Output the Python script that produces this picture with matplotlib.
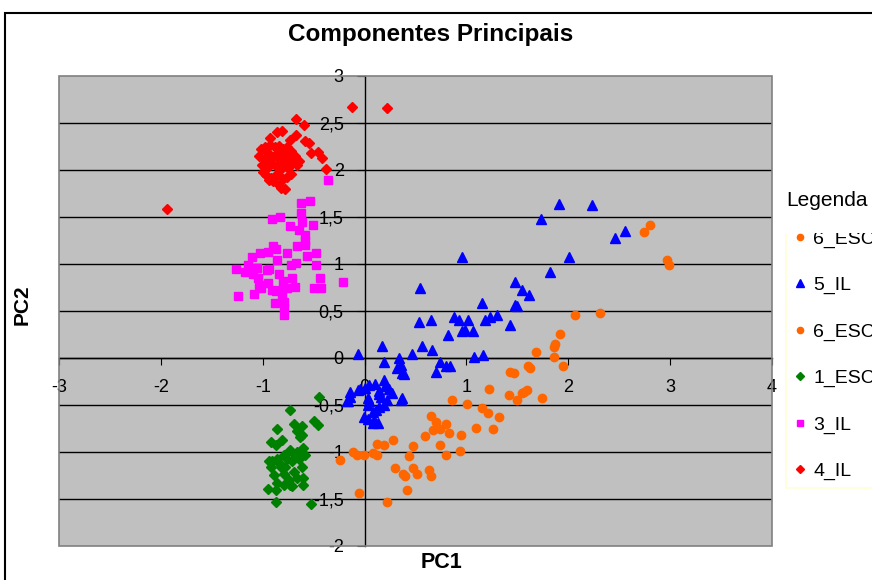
import matplotlib
matplotlib.use("Agg")
import matplotlib.pyplot as plt
from matplotlib.patches import Rectangle

plt.rcParams['font.family'] = ['Liberation Sans', 'DejaVu Sans']

# 6_ESC (grupo superior)
esc6a_x = [2.80, 2.74, 2.97, 2.99, 2.07, 2.31, 1.92, 1.87, 1.86, 1.68, 1.86, 1.60, 1.62, 1.95,
           1.43, 1.47, 1.22, 1.55, 1.59, 1.57, 1.42, 1.50, 1.74]
esc6a_y = [1.42, 1.34, 1.04, 0.99, 0.46, 0.48, 0.26, 0.15, 0.12, 0.06, 0.01, -0.08, -0.11, -0.09,
           -0.15, -0.16, -0.33, -0.37, -0.34, -0.36, -0.39, -0.45, -0.43]

# 5_IL
il5_x = [1.91, 2.23, 1.73, 2.46, 2.56, 0.96, 2.01, 1.82, 1.48, 1.55, 1.61, 0.54, 1.15, 1.48, 1.50,
         0.53, 0.65, 0.88, 0.93, 1.02, 1.18, 1.23, 1.30, 1.43, 0.96, 0.99, 1.06, 0.82, 0.56, 0.17,
         0.66, -0.06, 0.47, 1.07, 1.16, 0.34, 0.19, 0.74, 0.80, 0.84, 0.36, 0.32, 0.70, 0.37, 0.39,
         0.19, 0.10, 0.20, 0.14, 0.24, 0.27, 0.00, -0.14, -0.14, -0.16, -0.06, 0.03, 0.04, 0.03,
         0.14, 0.16, 0.22, 0.19, 0.14, 0.11, 0.08, 0.36, -0.01, 0.03, 0.09, 0.13, 0.08, -0.17,
         0.04, -0.04, 0.37]
il5_y = [1.64, 1.63, 1.48, 1.28, 1.35, 1.07, 1.07, 0.91, 0.81, 0.72, 0.67, 0.74, 0.59, 0.56, 0.55,
         0.38, 0.40, 0.44, 0.40, 0.40, 0.40, 0.44, 0.46, 0.35, 0.29, 0.30, 0.29, 0.24, 0.13, 0.13,
         0.08, 0.04, 0.04, 0.01, 0.03, 0.00, -0.04, -0.04, -0.08, -0.08, -0.07, -0.11, -0.15, -0.16, -0.17,
         -0.23, -0.28, -0.30, -0.35, -0.33, -0.37, -0.32, -0.36, -0.41, -0.46, -0.34, -0.43, -0.46, -0.50,
         -0.38, -0.41, -0.45, -0.50, -0.52, -0.55, -0.57, -0.45, -0.63, -0.65, -0.66, -0.69, -0.69, -0.46,
         -0.29, -0.33, -0.43]

# 6_ESC (grupo inferior)
esc6b_x = [0.86, 1.01, 1.15, 1.21, 1.32, 1.26, 1.09, 0.65, 0.70, 0.80, 0.67, 0.74, 0.83, 0.95,
           0.59, 0.28, 0.19, 0.12, 0.48, 0.74, 0.94, 0.80, -0.11, -0.07, -0.01, 0.08, 0.12, 0.44,
           -0.24, 0.30, 0.48, 0.51, 0.38, 0.40, 0.63, 0.65, 0.42, -0.05, 0.22]
esc6b_y = [-0.45, -0.49, -0.53, -0.58, -0.63, -0.76, -0.74, -0.62, -0.68, -0.70, -0.77, -0.76, -0.80, -0.82,
           -0.83, -0.87, -0.93, -0.91, -0.94, -0.93, -0.99, -1.03, -1.00, -1.03, -1.03, -1.01, -1.03, -1.04,
           -1.09, -1.17, -1.17, -1.23, -1.23, -1.26, -1.19, -1.26, -1.40, -1.44, -1.53]

# 1_ESC
esc1_x = [-0.45, -0.73, -0.50, -0.46, -0.69, -0.61, -0.86, -0.66, -0.61, -0.92, -0.81, -0.87,
          -0.60, -0.66, -0.73, -0.79, -0.86, -0.91, -0.92, -0.84, -0.78, -0.71, -0.64, -0.58,
          -0.61, -0.69, -0.79, -0.89, -0.74, -0.66, -0.60, -0.95, -0.87, -0.79, -0.71, -0.60,
          -0.87, -0.53, -0.68, -0.63, -0.76, -0.82, -0.94, -0.86, -0.73]
esc1_y = [-0.41, -0.55, -0.67, -0.71, -0.70, -0.72, -0.76, -0.78, -0.82, -0.89, -0.87, -0.93,
          -0.96, -1.00, -0.98, -1.03, -1.07, -1.10, -1.16, -1.12, -1.16, -1.10, -1.07, -1.03,
          -1.16, -1.21, -1.23, -1.24, -1.30, -1.28, -1.28, -1.39, -1.40, -1.35, -1.36, -1.35,
          -1.53, -1.55, -1.03, -0.84, -1.07, -1.16, -1.10, -1.33, -1.35]

# 3_IL
il3_x = [-0.36, -0.62, -0.54, -0.62, -0.91, -0.83, -0.73, -0.61, -0.51, -0.64, -0.58, -0.58,
         -0.66, -0.58, -0.90, -0.95, -0.87, -1.03, -0.76, -0.57, -0.48, -1.11, -0.86, -1.14,
         -1.06, -0.94, -0.72, -0.67, -0.48, -1.26, -1.17, -1.10, -0.96, -0.84, -1.05, -0.71,
         -0.44, -0.21, -1.04, -0.95, -0.80, -1.02, -0.91, -0.82, -0.76, -0.68, -0.50, -0.43,
         -1.24, -1.09, -0.87, -0.81, -0.88, -0.79, -0.79, -0.79]
il3_y = [1.89, 1.65, 1.67, 1.54, 1.48, 1.50, 1.40, 1.45, 1.42, 1.36, 1.31, 1.25,
         1.19, 1.20, 1.19, 1.13, 1.16, 1.12, 1.12, 1.09, 1.12, 1.07, 1.04, 0.99,
         0.96, 0.95, 0.99, 1.01, 0.99, 0.95, 0.91, 0.89, 0.94, 0.89, 0.85, 0.85,
         0.85, 0.81, 0.78, 0.80, 0.82, 0.75, 0.72, 0.72, 0.74, 0.76, 0.75, 0.75,
         0.66, 0.68, 0.71, 0.67, 0.59, 0.60, 0.53, 0.46]

# 4_IL
il4_x = [-0.12, 0.22, -1.94, -0.67, -0.59, -0.86, -0.81, -0.93, -0.67, -0.73, -0.58, -0.55,
         -0.46, -0.53, -0.42, -0.38, -1.02, -0.98, -0.93, -0.88, -0.84, -0.80, -0.76, -0.72,
         -1.04, -0.99, -0.95, -0.90, -0.86, -0.82, -0.78, -0.74, -0.70, -0.66, -1.01, -0.96,
         -0.92, -0.87, -0.83, -0.79, -0.75, -0.97, -0.92, -0.86, -0.80, -0.76, -0.84, -0.78,
         -0.90, -1.00, -0.72, -0.64, -0.68, -0.94, -0.82]
il4_y = [2.67, 2.66, 1.58, 2.54, 2.48, 2.40, 2.42, 2.34, 2.37, 2.32, 2.31, 2.29,
         2.19, 2.18, 2.13, 2.01, 2.22, 2.25, 2.27, 2.24, 2.26, 2.22, 2.25, 2.20,
         2.15, 2.12, 2.18, 2.14, 2.17, 2.11, 2.15, 2.12, 2.08, 2.05, 2.05, 2.02,
         2.07, 2.04, 2.00, 2.06, 2.02, 1.95, 1.92, 1.96, 1.90, 1.93, 1.84, 1.80,
         1.88, 1.98, 1.96, 2.10, 2.15, 1.89, 1.81]

x_ticks = [-3, -2, -1, 0, 1, 2, 3, 4]
y_ticks = [-2, -1.5, -1, -0.5, 0, 0.5, 1, 1.5, 2, 2.5, 3]

W, H = 872, 580
fig = plt.figure(figsize=(W / 100, H / 100), dpi=100)
ax = fig.add_axes([59 / W, 1 - 546 / H, (772 - 59) / W, (546 - 76) / H])
ax.set_facecolor('#C0C0C0')
ax.set_xlim(-3, 4)
ax.set_ylim(-2, 3)

# grade horizontal
for yv in y_ticks[1:-1]:
    ax.axhline(yv, color='black', lw=1, zorder=1)

ax.spines['top'].set_visible(False)
ax.spines['right'].set_visible(False)
ax.spines['left'].set_position(('data', 0))
ax.spines['bottom'].set_position(('data', 0))
ax.spines['left'].set_linewidth(1)
ax.spines['bottom'].set_linewidth(1)
ax.add_patch(Rectangle((0, 0), 1, 1, transform=ax.transAxes, fill=False,
                       ec='#808080', lw=1.2, zorder=5, clip_on=False))

ax.set_xticks(x_ticks)
ax.set_xticklabels([str(v) for v in x_ticks])
ax.set_yticks(y_ticks)
ax.set_yticklabels([('%g' % v).replace('.', ',') for v in y_ticks])
ax.tick_params(axis='x', direction='out', length=5, pad=10, labelsize=13)
ax.tick_params(axis='y', direction='out', length=6, pad=9, labelsize=13)

mk = dict(linestyle='none', zorder=3)
h1, = ax.plot(esc6a_x, esc6a_y, marker='o', ms=6, color='#FF6600', mec='#FF6600', **mk)
h2, = ax.plot(il5_x, il5_y, marker='^', ms=7, color='#0000FF', mec='#0000FF', **mk)
h3, = ax.plot(esc6b_x, esc6b_y, marker='o', ms=6, color='#FF6600', mec='#FF6600', **mk)
h4, = ax.plot(esc1_x, esc1_y, marker='D', ms=5, color='#008000', mec='#008000', **mk)
h5, = ax.plot(il3_x, il3_y, marker='s', ms=5.5, color='#FF00FF', mec='#FF00FF', **mk)
h6, = ax.plot(il4_x, il4_y, marker='D', ms=5, color='#FF0000', mec='#FF0000', **mk)

fig.text(431 / W, 1 - 35 / H, 'Componentes Principais', ha='center', va='center',
         fontsize=17.5, fontweight='bold')
fig.text(22 / W, 1 - 305 / H, 'PC2', ha='center', va='center', rotation=90,
         fontsize=15, fontweight='bold')
fig.text(441 / W, 1 - 563 / H, 'PC1', ha='center', va='center',
         fontsize=15.5, fontweight='bold')

leg = fig.legend([h1, h2, h3, h4, h5, h6], ['6_ESC', '5_IL', '6_ESC', '1_ESC', '3_IL', '4_IL'],
                 loc='upper left', bbox_to_anchor=(786 / W, 1 - 222 / H), borderaxespad=0,
                 fontsize=14, frameon=True, fancybox=False, edgecolor='#FFFFCC',
                 facecolor='white', labelspacing=1.48, handlelength=0.6, handletextpad=0.4,
                 borderpad=0.4, markerscale=0.75)
leg.get_frame().set_linewidth(1.2)

# parte de cima da legenda fica escondida
fig.add_artist(Rectangle((785 / W, 1 - 233 / H), 100 / W, 23 / H, transform=fig.transFigure,
                         fc='white', ec='none', zorder=10))
fig.text(786 / W, 1 - 200 / H, 'Legenda', ha='left', va='center', fontsize=15, zorder=11)

# moldura do gráfico
fig.add_artist(Rectangle((5 / W, -0.1), 1.2, 1.1 - 13 / H, transform=fig.transFigure,
                         fill=False, ec='black', lw=1.5, zorder=12))

fig.savefig('out.png', dpi=100)
